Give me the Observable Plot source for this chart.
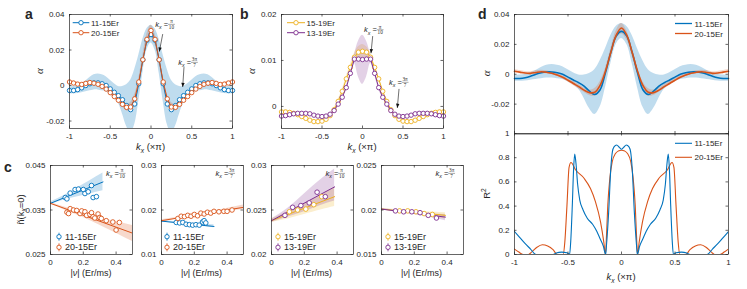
<!DOCTYPE html>
<html><head><meta charset="utf-8">
<script src="https://cdn.jsdelivr.net/npm/d3@7"></script>
<script src="https://cdn.jsdelivr.net/npm/@observablehq/plot@0.6"></script>
<style>
body{margin:0;background:#fff;}
#root{position:relative;width:747px;height:289px;overflow:hidden;background:#fff;}
</style></head><body><div id="root"></div>
<script>
// ---------- panel a / d (top): alpha vs kx ----------
const kx = [-1,-0.95,-0.9,-0.85,-0.8,-0.75,-0.7,-0.65,-0.6,-0.55,-0.5,-0.45,-0.4,-0.35,-0.3,-0.25,-0.2,-0.15,-0.1,-0.05,0,0.05,0.1,0.15,0.2,0.25,0.3,0.35,0.4,0.45,0.5,0.55,0.6,0.65,0.7,0.75,0.8,0.85,0.9,0.95,1];
const alpha_11_15 = [-0.0028,-0.0028,-0.0023,-0.0013,0,0.001,0.0015,0.0015,0.001,0,-0.0019,-0.0038,-0.0057,-0.008,-0.0113,-0.0136,-0.0104,0.001,0.0145,0.0255,0.0287,0.0255,0.0145,0.001,-0.0104,-0.0136,-0.0113,-0.008,-0.0057,-0.0038,-0.0019,0,0.001,0.0015,0.0015,0.001,0,-0.0013,-0.0023,-0.0028,-0.0028];
const alpha_11_15_hi = [-0.0007,-0.0005,0,0.001,0.0025,0.0045,0.006,0.0065,0.006,0.005,0.003,0.001,-0.0005,-0.0005,0.0005,0.003,0.009,0.017,0.026,0.032,0.034,0.032,0.026,0.017,0.009,0.003,0.0005,-0.0005,-0.0005,0.001,0.003,0.005,0.006,0.0065,0.006,0.0045,0.0025,0.001,0,-0.0005,-0.0007];
const alpha_11_15_lo = [-0.0047,-0.0047,-0.0045,-0.004,-0.0035,-0.003,-0.0025,-0.0025,-0.003,-0.0035,-0.005,-0.007,-0.01,-0.016,-0.023,-0.027,-0.022,-0.009,0.007,0.02,0.024,0.02,0.007,-0.009,-0.022,-0.027,-0.023,-0.016,-0.01,-0.007,-0.005,-0.0035,-0.003,-0.0025,-0.0025,-0.003,-0.0035,-0.004,-0.0045,-0.0047,-0.0047];
const alpha_20_15 = [0.002,0.0014,0.0008,0.0006,0.0012,0.0017,0.0013,0.0007,-0.0005,-0.002,-0.004,-0.0062,-0.0083,-0.0106,-0.0123,-0.0121,-0.0075,0.002,0.0145,0.026,0.031,0.026,0.0145,0.002,-0.0075,-0.0121,-0.0123,-0.0106,-0.0083,-0.0062,-0.004,-0.002,-0.0005,0.0007,0.0013,0.0017,0.0012,0.0006,0.0008,0.0014,0.002];
const alpha_20_15_hi = [0.0032,0.0025,0.0019,0.0017,0.0023,0.0027,0.0023,0.0017,0.0005,-0.001,-0.0028,-0.0048,-0.0068,-0.0092,-0.0105,-0.0095,-0.005,0.004,0.017,0.029,0.034,0.029,0.017,0.004,-0.005,-0.0095,-0.0105,-0.0092,-0.0068,-0.0048,-0.0028,-0.001,0.0005,0.0017,0.0023,0.0027,0.0023,0.0017,0.0019,0.0025,0.0032];
const alpha_20_15_lo = [0.0008,0.0003,-0.0003,-0.0005,0.0001,0.0007,0.0003,-0.0003,-0.0015,-0.003,-0.0052,-0.0076,-0.0098,-0.012,-0.0142,-0.0147,-0.01,0,0.012,0.023,0.027,0.023,0.012,0,-0.01,-0.0147,-0.0142,-0.012,-0.0098,-0.0076,-0.0052,-0.003,-0.0015,-0.0003,0.0003,0.0007,0.0001,-0.0005,-0.0003,0.0003,0.0008];

// ---------- panel b ----------
const alpha_15_19 = [-0.0012,-0.0012,-0.0013,-0.0015,-0.0018,-0.0022,-0.0026,-0.003,-0.0033,-0.0033,-0.0032,-0.0028,-0.002,-0.0007,0.0011,0.0033,0.006,0.0085,0.0107,0.0118,0.012,0.0118,0.0107,0.0085,0.006,0.0033,0.0011,-0.0007,-0.002,-0.0028,-0.0032,-0.0033,-0.0033,-0.003,-0.0026,-0.0022,-0.0018,-0.0015,-0.0013,-0.0012,-0.0012];
const alpha_15_19_hi = [-0.0008,-0.0008,-0.0009,-0.0011,-0.0014,-0.0018,-0.0022,-0.0026,-0.0029,-0.0029,-0.0028,-0.0024,-0.0016,-0.0003,0.0015,0.0037,0.0065,0.0091,0.0115,0.013,0.0135,0.013,0.0115,0.0091,0.0065,0.0037,0.0015,-0.0003,-0.0016,-0.0024,-0.0028,-0.0029,-0.0029,-0.0026,-0.0022,-0.0018,-0.0014,-0.0011,-0.0009,-0.0008,-0.0008];
const alpha_15_19_lo = [-0.0016,-0.0016,-0.0017,-0.0019,-0.0022,-0.0026,-0.003,-0.0034,-0.0037,-0.0037,-0.0036,-0.0032,-0.0024,-0.0011,0.0007,0.0029,0.0055,0.0079,0.0099,0.0106,0.0105,0.0106,0.0099,0.0079,0.0055,0.0029,0.0007,-0.0011,-0.0024,-0.0032,-0.0036,-0.0037,-0.0037,-0.0034,-0.003,-0.0026,-0.0022,-0.0019,-0.0017,-0.0016,-0.0016];
const alpha_13_19 = [-0.0021,-0.002,-0.0018,-0.0016,-0.0015,-0.0015,-0.0015,-0.0016,-0.0019,-0.0021,-0.0022,-0.0021,-0.0017,-0.0009,0.0005,0.002,0.0041,0.0072,0.0103,0.0103,0.0102,0.0103,0.0103,0.0072,0.0041,0.002,0.0005,-0.0009,-0.0017,-0.0021,-0.0022,-0.0021,-0.0019,-0.0016,-0.0015,-0.0015,-0.0015,-0.0016,-0.0018,-0.002,-0.0021];
const alpha_13_19_hi = [-0.0018,-0.0017,-0.0015,-0.0013,-0.0012,-0.0012,-0.0012,-0.0013,-0.0016,-0.0018,-0.0019,-0.0018,-0.0014,-0.0006,0.0008,0.0023,0.0045,0.0076,0.0112,0.0142,0.0155,0.0142,0.0112,0.0076,0.0045,0.0023,0.0008,-0.0006,-0.0014,-0.0018,-0.0019,-0.0018,-0.0016,-0.0013,-0.0012,-0.0012,-0.0012,-0.0013,-0.0015,-0.0017,-0.0018];
const alpha_13_19_lo = [-0.0024,-0.0023,-0.0021,-0.0019,-0.0018,-0.0018,-0.0018,-0.0019,-0.0022,-0.0024,-0.0025,-0.0024,-0.002,-0.0012,0.0002,0.0017,0.0037,0.0068,0.0094,0.0064,0.0048,0.0064,0.0094,0.0068,0.0037,0.0017,0.0002,-0.0012,-0.002,-0.0024,-0.0025,-0.0024,-0.0022,-0.0019,-0.0018,-0.0018,-0.0018,-0.0019,-0.0021,-0.0023,-0.0024];

// ---------- panel d (bottom): R^2 ----------
const r2Kx_11_15 = [-1,-0.95,-0.9,-0.85,-0.8,-0.64,-0.61,-0.56,-0.51,-0.485,-0.475,-0.46,-0.447,-0.437,-0.425,-0.41,-0.39,-0.36,-0.32,-0.27,-0.23,-0.2,-0.17,-0.148,-0.14,-0.12,-0.1,-0.085,-0.07,-0.045,-0.02,0,0.02,0.045,0.07,0.085,0.1,0.12,0.14,0.148,0.17,0.2,0.23,0.27,0.32,0.36,0.39,0.41,0.425,0.437,0.447,0.46,0.475,0.485,0.51,0.56,0.61,0.64,0.8,0.85,0.9,0.95,1];
const r2_11_15 = [0.19,0.14,0.09,0.045,0,0,0.012,0.02,0.015,0,0.10,0.40,0.72,0.83,0.75,0.58,0.45,0.37,0.30,0.25,0.19,0.13,0.07,0,0.08,0.35,0.71,0.85,0.89,0.905,0.885,0.87,0.885,0.905,0.89,0.85,0.71,0.35,0.08,0,0.07,0.13,0.19,0.25,0.30,0.37,0.45,0.58,0.75,0.83,0.72,0.40,0.10,0,0.015,0.02,0.012,0,0,0.045,0.09,0.14,0.19];
const r2Kx_20_15 = [-1,-0.96,-0.92,-0.87,-0.84,-0.79,-0.74,-0.69,-0.64,-0.6,-0.545,-0.53,-0.51,-0.49,-0.472,-0.43,-0.35,-0.29,-0.243,-0.196,-0.165,-0.15,-0.14,-0.128,-0.109,-0.087,-0.056,-0.03,0,0.03,0.056,0.087,0.109,0.128,0.14,0.15,0.165,0.196,0.243,0.29,0.35,0.43,0.472,0.49,0.51,0.53,0.545,0.6,0.64,0.69,0.74,0.79,0.84,0.87,0.92,0.96,1];
const r2_20_15 = [0.045,0.02,0,0,0.02,0.06,0.08,0.07,0.04,0,0,0.10,0.40,0.72,0.76,0.70,0.63,0.545,0.435,0.27,0.10,0,0.16,0.41,0.63,0.766,0.835,0.855,0.862,0.855,0.835,0.766,0.63,0.41,0.16,0,0.10,0.27,0.435,0.545,0.63,0.70,0.76,0.72,0.40,0.10,0,0,0.04,0.07,0.08,0.06,0.02,0,0,0.02,0.045];

// ---------- panel c: density vs |nu| ----------
// c1: kx = pi/10, 11-15Er & 20-15Er
const c1_11_15_nu = [0.09,0.10,0.12,0.15,0.17,0.20,0.21,0.23,0.25,0.26,0.28];
const c1_11_15_n  = [0.0378,0.0375,0.0388,0.0396,0.0397,0.0396,0.0387,0.0391,0.0405,0.0378,0.0380];
const c1_11_15_fitNu = [0,0.32], c1_11_15_fitN = [0.0365,0.0413];
const c1_11_15_bandNu = [0,0.08,0.16,0.24,0.32];
const c1_11_15_bandLo = [0.0362,0.0372,0.0379,0.0386,0.0393];
const c1_11_15_bandHi = [0.0368,0.0382,0.0399,0.0416,0.0433];
const c1_20_15_nu = [0.1,0.11,0.12,0.14,0.16,0.18,0.19,0.21,0.22,0.24,0.25,0.26,0.27,0.29,0.3,0.31,0.34,0.38,0.4,0.42];
const c1_20_15_n  = [0.0345,0.0342,0.0353,0.0350,0.0349,0.0342,0.0348,0.0346,0.0338,0.0340,0.0344,0.0335,0.0332,0.0341,0.0333,0.0331,0.0326,0.0323,0.0305,0.0322];
const c1_20_15_fitNu = [0,0.5], c1_20_15_fitN = [0.0365,0.0298];
const c1_20_15_bandNu = [0,0.1,0.2,0.3,0.4,0.5];
const c1_20_15_bandLo = [0.0363,0.0348,0.0333,0.0316,0.0298,0.0279];
const c1_20_15_bandHi = [0.0367,0.0355,0.0343,0.0332,0.0324,0.0315];
// c2: kx = 3pi/7, 11-15Er & 20-15Er
const c2_11_15_nu = [0.09,0.11,0.13,0.15,0.17,0.19,0.21,0.23,0.25,0.26,0.27];
const c2_11_15_n  = [0.0172,0.0171,0.0172,0.0168,0.0167,0.0166,0.0167,0.0166,0.0173,0.0176,0.0171];
const c2_11_15_fitNu = [0,0.32], c2_11_15_fitN = [0.0175,0.0163];
const c2_11_15_bandNu = [0,0.16,0.32];
const c2_11_15_bandLo = [0.0173,0.0167,0.016];
const c2_11_15_bandHi = [0.0177,0.0171,0.0167];
const c2_20_15_nu = [0.1,0.12,0.14,0.16,0.18,0.2,0.22,0.24,0.26,0.28,0.3,0.32,0.35,0.38,0.4,0.43];
const c2_20_15_n  = [0.0181,0.0186,0.0185,0.0188,0.0186,0.0190,0.0187,0.0193,0.0191,0.0195,0.0193,0.0197,0.0196,0.0197,0.0197,0.0200];
const c2_20_15_fitNu = [0,0.5], c2_20_15_fitN = [0.0176,0.0206];
const c2_20_15_bandNu = [0,0.25,0.5];
const c2_20_15_bandLo = [0.0174,0.0189,0.0201];
const c2_20_15_bandHi = [0.0178,0.0193,0.0211];
// c3: kx = pi/10, 15-19Er & 13-19Er
const c3_15_19_nu = [0.109,0.159,0.209,0.258,0.306];
const c3_15_19_n  = [0.0248,0.0250,0.0251,0.0256,0.0265];
const c3_15_19_fitNu = [0,0.385], c3_15_19_fitN = [0.0238,0.0265];
const c3_15_19_bandNu = [0,0.1,0.2,0.3,0.385];
const c3_15_19_bandLo = [0.0236,0.024,0.0245,0.025,0.0254];
const c3_15_19_bandHi = [0.024,0.0248,0.0257,0.0266,0.0275];
const c3_13_19_nu = [0.082,0.129,0.179,0.23,0.278,0.328];
const c3_13_19_n  = [0.0244,0.0253,0.0255,0.0258,0.0270,0.0265];
const c3_13_19_fitNu = [0,0.385], c3_13_19_fitN = [0.0238,0.0276];
const c3_13_19_bandNu = [0,0.1,0.2,0.3,0.385];
const c3_13_19_bandLo = [0.0236,0.0242,0.0248,0.0255,0.026];
const c3_13_19_bandHi = [0.024,0.0252,0.0268,0.0284,0.0296];
// c4: kx = 3pi/7, 15-19Er & 13-19Er
const c4_15_19_nu = [0.11,0.16,0.21,0.26,0.31];
const c4_15_19_n  = [0.0199,0.0199,0.0198,0.0196,0.0195];
const c4_15_19_fitNu = [0,0.39], c4_15_19_fitN = [0.0201,0.0194];
const c4_15_19_bandNu = [0,0.2,0.39];
const c4_15_19_bandLo = [0.02,0.0196,0.019];
const c4_15_19_bandHi = [0.0202,0.0199,0.0197];
const c4_13_19_nu = [0.085,0.135,0.185,0.235,0.285,0.335];
const c4_13_19_n  = [0.0199,0.0198,0.0198,0.0197,0.0194,0.0191];
const c4_13_19_fitNu = [0,0.39], c4_13_19_fitN = [0.0201,0.0192];
const c4_13_19_bandNu = [0,0.2,0.39];
const c4_13_19_bandLo = [0.02,0.0195,0.0188];
const c4_13_19_bandHi = [0.0202,0.0197,0.0195];

// ---------- ticks ----------
const kxTicks = [-1,-0.5,0,0.5,1];
const aTicks = [-0.02,0,0.02,0.04];
const bTicks = [0,0.01,0.02];
const dTopTicks = [-0.02,0,0.02,0.04];
const dBotTicks = [0,0.2,0.4,0.6,0.8,1];
const nuTicks = [0,0.2,0.4];
const c1Ticks = [0.025,0.035,0.045], c2Ticks = [0.01,0.02,0.03], c3Ticks = [0.02,0.025,0.03], c4Ticks = [0.015,0.02,0.025];

// ---------- styling ----------
const FONT = '"Liberation Sans", Arial, Helvetica, sans-serif';
const SERIF = '"Liberation Serif", "DejaVu Serif", serif';
const INK = "#262626";
const COL = {blue: "#0072BD", orange: "#D95319", yellow: "#EDB120", purple: "#7E2F8E"};
const fmt = d => String(d);
const root = document.getElementById("root");

function panel(cfg) {
  const mL = 36, mR = 4, mT = 4, mB = 16, tk = 2.5;
  const {L, T, W, H} = cfg;
  const ts = {stroke: INK, strokeWidth: 0.7};
  const marks = [
    ...cfg.marks,
    Plot.frame({stroke: INK, strokeWidth: 0.7}),
    Plot.tickX(cfg.xTicks, {x: d => d, insetTop: H - tk, ...ts}),
    Plot.tickX(cfg.xTicks, {x: d => d, insetBottom: H - tk, ...ts}),
    Plot.tickY(cfg.yTicks, {y: d => d, insetRight: W - tk, ...ts}),
    Plot.tickY(cfg.yTicks, {y: d => d, insetLeft: W - tk, ...ts})
  ];
  if (cfg.xLabels !== false) marks.push(Plot.axisX({ticks: cfg.xTicks, tickSize: 0, tickPadding: 5, tickFormat: fmt, label: null}));
  if (cfg.yLabels !== false) marks.push(Plot.axisY({ticks: cfg.yTicks, tickSize: 0, tickPadding: 5, tickFormat: fmt, label: null}));
  const plot = Plot.plot({
    width: W + mL + mR, height: H + mT + mB,
    marginLeft: mL, marginRight: mR, marginTop: mT, marginBottom: mB,
    x: {domain: cfg.xDomain, axis: null}, y: {domain: cfg.yDomain, axis: null},
    style: {position: "absolute", left: (L - mL) + "px", top: (T - mT) + "px", background: "transparent",
            overflow: "visible", fontFamily: FONT, fontSize: "8px", color: INK, maxWidth: "none"},
    marks
  });
  root.appendChild(plot);
  const sx = plot.scale("x"), sy = plot.scale("y");
  return {L, T, W, H, R: L + W, B: T + H, x: v => L - mL + sx.apply(v), y: v => T - mT + sy.apply(v)};
}

function rows(xs, cols) { return xs.map((x, i) => { const o = {x}; for (const k in cols) o[k] = cols[k][i]; return o; }); }

// panel a
const A = rows(kx, {b: alpha_11_15, bl: alpha_11_15_lo, bh: alpha_11_15_hi, o: alpha_20_15, ol: alpha_20_15_lo, oh: alpha_20_15_hi});
const pa = panel({L: 69, T: 14, W: 163, H: 114, xDomain: [-1, 1], yDomain: [-0.0242, 0.04], xTicks: kxTicks, yTicks: aTicks, marks: [
  Plot.areaY(A, {x: "x", y1: "bl", y2: "bh", fill: COL.blue, fillOpacity: 0.25, curve: "catmull-rom", clip: true}),
  Plot.areaY(A, {x: "x", y1: "ol", y2: "oh", fill: COL.orange, fillOpacity: 0.22, curve: "catmull-rom", clip: true}),
  Plot.line(A, {x: "x", y: "b", stroke: COL.blue, strokeWidth: 1}),
  Plot.dot(A, {x: "x", y: "b", r: 2.2, stroke: COL.blue, fill: "white", strokeWidth: 0.9}),
  Plot.line(A, {x: "x", y: "o", stroke: COL.orange, strokeWidth: 1}),
  Plot.dot(A, {x: "x", y: "o", r: 2.2, stroke: COL.orange, fill: "white", strokeWidth: 0.9})
]});

// panel b
const B = rows(kx, {y: alpha_15_19, yl: alpha_15_19_lo, yh: alpha_15_19_hi, p: alpha_13_19, pl: alpha_13_19_lo, ph: alpha_13_19_hi});
const pb = panel({L: 281, T: 14, W: 162, H: 114, xDomain: [-1, 1], yDomain: [-0.0048, 0.02], xTicks: kxTicks, yTicks: bTicks, marks: [
  Plot.areaY(B, {x: "x", y1: "yl", y2: "yh", fill: COL.yellow, fillOpacity: 0.22, curve: "catmull-rom", clip: true}),
  Plot.areaY(B, {x: "x", y1: "pl", y2: "ph", fill: COL.purple, fillOpacity: 0.22, curve: "catmull-rom", clip: true}),
  Plot.line(B, {x: "x", y: "y", stroke: COL.yellow, strokeWidth: 1}),
  Plot.dot(B, {x: "x", y: "y", r: 2.2, stroke: COL.yellow, fill: "white", strokeWidth: 0.9}),
  Plot.line(B, {x: "x", y: "p", stroke: COL.purple, strokeWidth: 1}),
  Plot.dot(B, {x: "x", y: "p", r: 2.2, stroke: COL.purple, fill: "white", strokeWidth: 0.9})
]});

// panel d top
const pdt = panel({L: 514, T: 13.5, W: 214, H: 119.5, xDomain: [-1, 1], yDomain: [-0.04, 0.04], xTicks: kxTicks, yTicks: dTopTicks, xLabels: false, marks: [
  Plot.areaY(A, {x: "x", y1: "bl", y2: "bh", fill: COL.blue, fillOpacity: 0.25, curve: "catmull-rom", clip: true}),
  Plot.areaY(A, {x: "x", y1: "ol", y2: "oh", fill: COL.orange, fillOpacity: 0.22, curve: "catmull-rom", clip: true}),
  Plot.line(A, {x: "x", y: "b", stroke: COL.blue, strokeWidth: 1.6, curve: "catmull-rom"}),
  Plot.line(A, {x: "x", y: "o", stroke: COL.orange, strokeWidth: 1.6, curve: "catmull-rom"})
]});

// panel d bottom
const RB = rows(r2Kx_11_15, {v: r2_11_15});
const RO = rows(r2Kx_20_15, {v: r2_20_15});
const pdb = panel({L: 514, T: 133, W: 214, H: 121, xDomain: [-1, 1], yDomain: [0, 1], xTicks: kxTicks, yTicks: dBotTicks, marks: [
  Plot.line(RO, {x: "x", y: "v", stroke: COL.orange, strokeWidth: 1.1, curve: "monotone-x", clip: true}),
  Plot.line(RB, {x: "x", y: "v", stroke: COL.blue, strokeWidth: 1.1, curve: "monotone-x", clip: true})
]});

// panel c
function series(nu, n, fitNu, fitN, bandNu, lo, hi, color) {
  return {pts: rows(nu, {n}), fit: rows(fitNu, {n: fitN}), band: rows(bandNu, {lo, hi}), color};
}
function cPanel(L, yDomain, yTicks, s1, s2) {
  return panel({L, T: 165, W: 82, H: 89, xDomain: [0, 0.5], yDomain, xTicks: nuTicks, yTicks, marks: [
    ...[s1, s2].map(s => Plot.areaY(s.band, {x: "x", y1: "lo", y2: "hi", fill: s.color, fillOpacity: 0.22, curve: "natural", clip: true})),
    ...[s1, s2].map(s => Plot.line(s.fit, {x: "x", y: "n", stroke: s.color, strokeWidth: 1, clip: true})),
    ...[s1, s2].map(s => Plot.dot(s.pts, {x: "x", y: "n", r: 2.3, stroke: s.color, fill: "white", strokeWidth: 0.9}))
  ]});
}
const pc1 = cPanel(50, [0.025, 0.045], c1Ticks,
  series(c1_11_15_nu, c1_11_15_n, c1_11_15_fitNu, c1_11_15_fitN, c1_11_15_bandNu, c1_11_15_bandLo, c1_11_15_bandHi, COL.blue),
  series(c1_20_15_nu, c1_20_15_n, c1_20_15_fitNu, c1_20_15_fitN, c1_20_15_bandNu, c1_20_15_bandLo, c1_20_15_bandHi, COL.orange));
const pc2 = cPanel(160.5, [0.01, 0.03], c2Ticks,
  series(c2_11_15_nu, c2_11_15_n, c2_11_15_fitNu, c2_11_15_fitN, c2_11_15_bandNu, c2_11_15_bandLo, c2_11_15_bandHi, COL.blue),
  series(c2_20_15_nu, c2_20_15_n, c2_20_15_fitNu, c2_20_15_fitN, c2_20_15_bandNu, c2_20_15_bandLo, c2_20_15_bandHi, COL.orange));
const pc3 = cPanel(270.5, [0.02, 0.03], c3Ticks,
  series(c3_15_19_nu, c3_15_19_n, c3_15_19_fitNu, c3_15_19_fitN, c3_15_19_bandNu, c3_15_19_bandLo, c3_15_19_bandHi, COL.yellow),
  series(c3_13_19_nu, c3_13_19_n, c3_13_19_fitNu, c3_13_19_fitN, c3_13_19_bandNu, c3_13_19_bandLo, c3_13_19_bandHi, COL.purple));
const pc4 = cPanel(380.5, [0.015, 0.025], c4Ticks,
  series(c4_15_19_nu, c4_15_19_n, c4_15_19_fitNu, c4_15_19_fitN, c4_15_19_bandNu, c4_15_19_bandLo, c4_15_19_bandHi, COL.yellow),
  series(c4_13_19_nu, c4_13_19_n, c4_13_19_fitNu, c4_13_19_fitN, c4_13_19_bandNu, c4_13_19_bandLo, c4_13_19_bandHi, COL.purple));

// ---------- overlay: labels, legends, annotations ----------
const ov = d3.select(root).append("svg").attr("width", 747).attr("height", 289)
  .style("position", "absolute").style("left", "0px").style("top", "0px").style("overflow", "visible")
  .attr("font-family", FONT);

function rich(x, y, parts, size, o = {}) {
  const t = ov.append("text").attr("x", x).attr("y", y).attr("font-size", size)
    .attr("text-anchor", o.anchor || "start").attr("fill", o.fill || INK);
  if (o.rotate) t.attr("transform", `rotate(-90,${x},${y})`);
  if (o.weight) t.attr("font-weight", o.weight);
  if (o.family) t.attr("font-family", o.family);
  if (o.baseline) t.attr("dominant-baseline", o.baseline);
  let shift = 0;
  for (const p of parts) {
    const s = t.append("tspan").text(p.t);
    const target = p.sub ? size * 0.3 : p.sup ? -size * 0.4 : 0;
    if (target !== shift) { s.attr("dy", target - shift); shift = target; }
    if (p.sub || p.sup) s.attr("font-size", size * 0.7);
    if (p.it) s.attr("font-style", "italic");
    if (p.family) s.attr("font-family", p.family);
  }
  return t;
}
function frac(cx, barY, num, den, size) {
  ov.append("text").attr("x", cx).attr("y", barY - 0.9).attr("text-anchor", "middle").attr("font-size", size).attr("font-family", SERIF).attr("fill", INK).text(num);
  ov.append("text").attr("x", cx).attr("y", barY + size * 0.78 + 0.4).attr("text-anchor", "middle").attr("font-size", size).attr("font-family", SERIF).attr("fill", INK).text(den);
  const w = Math.max(num.length, den.length) * size * 0.5 + 1.6;
  ov.append("line").attr("x1", cx - w / 2).attr("x2", cx + w / 2).attr("y1", barY).attr("y2", barY).attr("stroke", INK).attr("stroke-width", 0.4);
}
function kAnnot(x, y, num, den, size) {
  const t = rich(x, y, [{t: "k", it: true}, {t: "x", sub: true, it: true}, {t: " = "}], size);
  const len = t.node().getComputedTextLength();
  const w = Math.max(num.length, den.length) * 5 * 0.5 + 1.6;
  frac(x + len + w / 2, y - size * 0.35, num, den, 5.2);
}
function arrow(x1, y1, x2, y2) {
  ov.append("line").attr("x1", x1).attr("y1", y1).attr("x2", x2).attr("y2", y2).attr("stroke", "#111").attr("stroke-width", 0.6);
  const a = Math.atan2(y2 - y1, x2 - x1), Lh = 4.2, Wh = 1.7;
  const bx = x2 - Lh * Math.cos(a), by = y2 - Lh * Math.sin(a);
  ov.append("polygon").attr("fill", "#111").attr("points",
    `${x2},${y2} ${bx + Wh * Math.sin(a)},${by - Wh * Math.cos(a)} ${bx - Wh * Math.sin(a)},${by + Wh * Math.cos(a)}`);
}
function legendLine(x1, x2, y, color, text, tx, size, o = {}) {
  ov.append("line").attr("x1", x1).attr("x2", x2).attr("y1", y).attr("y2", y).attr("stroke", color).attr("stroke-width", o.sw || 1);
  if (o.circle) ov.append("circle").attr("cx", (x1 + x2) / 2).attr("cy", y).attr("r", 2.2).attr("fill", "white").attr("stroke", color).attr("stroke-width", 0.9);
  rich(tx, y, [{t: text}], size, {baseline: "central"});
}
function legendErr(x, y, color, text, tx, size) {
  ov.append("line").attr("x1", x).attr("x2", x).attr("y1", y - 4).attr("y2", y + 4).attr("stroke", color).attr("stroke-width", 0.8);
  ov.append("circle").attr("cx", x).attr("cy", y).attr("r", 2.2).attr("fill", "white").attr("stroke", color).attr("stroke-width", 0.9);
  rich(tx, y, [{t: text}], size, {baseline: "central"});
}

// panel letters
rich(25, 19, [{t: "a"}], 14, {weight: "bold"});
rich(240, 19, [{t: "b"}], 14, {weight: "bold"});
rich(478, 19, [{t: "d"}], 14, {weight: "bold"});
rich(4, 172, [{t: "c"}], 14, {weight: "bold"});

// axis labels
const kxLabel = [{t: "k", it: true}, {t: "x", sub: true, it: true}, {t: " (×π)"}];
rich((pa.L + pa.R) / 2, 150, kxLabel, 9.5, {anchor: "middle"});
rich((pb.L + pb.R) / 2, 150, kxLabel, 9.5, {anchor: "middle"});
rich((pdb.L + pdb.R) / 2, 280, kxLabel, 9.5, {anchor: "middle"});
rich(pa.L - 26, (pa.T + pa.B) / 2, [{t: "α", it: true, family: SERIF}], 11, {anchor: "middle", rotate: true});
rich(pb.L - 26, (pb.T + pb.B) / 2, [{t: "α", it: true, family: SERIF}], 11, {anchor: "middle", rotate: true});
rich(pdt.L - 24, (pdt.T + pdt.B) / 2, [{t: "α", it: true, family: SERIF}], 11, {anchor: "middle", rotate: true});
rich(pdb.L - 24, (pdb.T + pdb.B) / 2, [{t: "R"}, {t: "2", sup: true}], 9.5, {anchor: "middle", rotate: true});
rich(23.5, (pc1.T + pc1.B) / 2, [{t: "ñ(k"}, {t: "x", sub: true, it: true}, {t: "=0)"}], 9.5, {anchor: "middle", rotate: true});
for (const p of [pc1, pc2, pc3, pc4]) {
  rich((p.L + p.R) / 2, 276, [{t: "|"}, {t: "ν", it: true}, {t: "| (Er/ms)"}], 9, {anchor: "middle"});
}

// legends
legendLine(72.7, 89.3, 22.7, COL.blue, "11-15Er", 91, 8, {circle: true});
legendLine(72.7, 89.3, 32.7, COL.orange, "20-15Er", 91, 8, {circle: true});
legendLine(287, 305, 22.7, COL.yellow, "15-19Er", 306.5, 8, {circle: true});
legendLine(287, 305, 32.7, COL.purple, "13-19Er", 306.5, 8, {circle: true});
legendLine(675, 692, 23.5, COL.blue, "11-15Er", 694.5, 8, {sw: 1.3});
legendLine(675, 692, 33.5, COL.orange, "20-15Er", 694.5, 8, {sw: 1.3});
legendLine(675, 692, 143.3, COL.blue, "11-15Er", 694.5, 8, {sw: 1.1});
legendLine(675, 692, 157.3, COL.orange, "20-15Er", 694.5, 8, {sw: 1.1});
legendErr(59, 236.7, COL.blue, "11-15Er", 65, 9);
legendErr(59, 247.3, COL.orange, "20-15Er", 65, 9);
legendErr(167, 236.7, COL.blue, "11-15Er", 173, 9);
legendErr(167, 247.3, COL.orange, "20-15Er", 173, 9);
legendErr(278, 236.7, COL.yellow, "15-19Er", 284, 9);
legendErr(278, 247.3, COL.purple, "13-19Er", 284, 9);
legendErr(388, 236.7, COL.yellow, "15-19Er", 394, 9);
legendErr(388, 247.3, COL.purple, "13-19Er", 394, 9);

// annotations (data coordinates of text anchor, arrow start, arrow tip)
const annotA = [
  {text: [0.059, 0.0327], start: [0.150, 0.0287], tip: [0.108, 0.0188], num: "π", den: "10"},
  {text: [0.341, 0.0113], start: [0.411, 0.0101], tip: [0.395, -0.0011], num: "3π", den: "7"}
];
const annotB = [
  {text: [0.025, 0.0160], start: [0.132, 0.0152], tip: [0.111, 0.01146], num: "π", den: "10"},
  {text: [0.333, 0.00457], start: [0.457, 0.0037], tip: [0.436, -0.00043], num: "3π", den: "7"}
];
for (const [p, list] of [[pa, annotA], [pb, annotB]]) {
  for (const a of list) {
    kAnnot(p.x(a.text[0]), p.y(a.text[1]), a.num, a.den, 7.5);
    arrow(p.x(a.start[0]), p.y(a.start[1]), p.x(a.tip[0]), p.y(a.tip[1]));
  }
}
kAnnot(pc1.R - 26, pc1.T + 11, "π", "10", 7.5);
kAnnot(pc2.R - 27, pc2.T + 11, "3π", "7", 7.5);
kAnnot(pc3.R - 27, pc3.T + 11, "π", "10", 7.5);
kAnnot(pc4.R - 27, pc4.T + 11, "3π", "7", 7.5);
</script></body></html>
